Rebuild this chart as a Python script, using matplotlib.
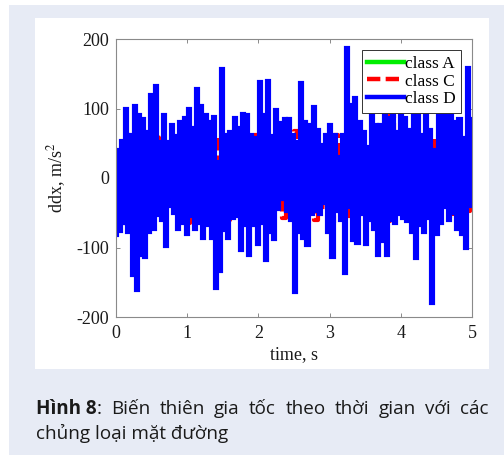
#!/usr/bin/env python3
"""Acceleration vs time for three road classes (MATLAB-style figure with caption)."""
import matplotlib
matplotlib.use("Agg")
import matplotlib.pyplot as plt
from matplotlib.patches import Rectangle
import numpy as np

# ---- data ----------------------------------------------------------------
T_END = 5.0
# class D (blue): alternating troughs / peaks, left to right
d_peaks = [40, 53, 100, 62, 103, 91, 85, 66, 120, 132, 52, 90, 52, 76, 60, 80,
           86, 100, 72, 128, 103, 91,
           80, 88, 23, 157, 62, 66, 86, 72, 92, 90, 62, 57, 138, 90, 139, 60,
           98, 79, 85, 85, 62,
           52, 136, 80, 76, 102, 69, 48, 62, 76, 62, 30, 62, 187, 105, 115, 80,
           66, 45, 125, 76, 76, 90,
           86, 110, 66, 120, 86, 69, 100, 95, 62, 130, 69, 40, 110, 90, 95, 100,
           80, 85, 57, 158, 85]
d_troughs = [-82, -76, -65, -77, -140, -161, -111, -113, -78, -74, -53, -60, -98,
             -40, -50, -73, -65, -80, -55, -73, -65, -86,
             -68, -86, -158, -134, -75, -86, -57, -55, -103, -68, -111, -68, -95,
             -65, -118, -77, -88, -45, -30, -48, -60,
             -164, -77, -87, -96, -52, -48, -52, -36, -77, -113, -48, -60, -137,
             -42, -89, -93, -52, -95, -60, -73, -111, -90,
             -111, -60, -65, -52, -58, -62, -77, -115, -68, -77, -58, -180, -80,
             -65, -42, -60, -50, -73, -80, -100, -40]
# class C (red): mostly hidden behind D
c_peaks = [10, 62, 45, 60, 38, 62, 55, 40, 62, 50, 35, 62, 58, 42, 62, 48, 60,
           62, 40, 55, 62, 45, 68, 50, 62, 38, 60, 62, 44, 58, 62, 40, 62, 55,
           90, 48, 62, 35, 60, 62, 45, 58, 62, 40, 55]
c_troughs = [-30, -65, -45, -60, -40, -62, -50, -35, -58, -65, -42, -55, -62,
             -38, -60, -48, -65, -40, -55, -62, -45, -58, -35, -62, -50, -60,
             -42, -65, -48, -55, -62, -40, -58, -45, -62, -50, -38, -60, -55,
             -45, -62, -40, -58, -50, -48]
# class A (green): small amplitude, almost completely covered
a_peaks = [4, 8, 6, 10, 5, 9, 7, 6, 8, 5, 9, 6, 7, 10, 5, 8, 6, 9, 7, 5]
a_troughs = [-6, -9, -5, -8, -7, -10, -6, -8, -5, -9, -7, -6, -8, -5, -9, -7,
             -6, -10, -5, -8]

series = [("class A", a_troughs, a_peaks, "#00ee00", "-"),
          ("class C", c_troughs, c_peaks, "#ff0000", "--"),
          ("class D", d_troughs, d_peaks, "#0000ff", "-")]

x_ticks = [0, 1, 2, 3, 4, 5]
y_ticks = [-200, -100, 0, 100, 200]

W, H = 504, 455
BG = "#e7ebf5"
INK = "#1a1a1a"

plt.rcParams.update({
    "font.family": ["Liberation Serif", "DejaVu Serif"],
    "mathtext.fontset": "stix",
    "font.size": 13,
    "axes.unicode_minus": False,
})

fig = plt.figure(figsize=(W / 100, H / 100), dpi=100)
fig.patch.set_facecolor("white")


def px_box(x0, y0, x1, y1):
    """pixel box (top-left origin) -> figure fraction rect"""
    return (x0 / W, 1 - y1 / H, (x1 - x0) / W, (y1 - y0) / H)


# caption card + white plot panel
bx, by, bw, bh = px_box(9, 5, 504, 455)
fig.add_artist(Rectangle((bx, by), bw, bh, transform=fig.transFigure,
                         facecolor=BG, edgecolor="none", zorder=-10))
px, py, pw, ph = px_box(35, 18, 489, 369)
fig.add_artist(Rectangle((px, py), pw, ph, transform=fig.transFigure,
                         facecolor="white", edgecolor="none", zorder=-9))

ax = fig.add_axes(px_box(116, 39, 472, 317))
ax.set_facecolor("white")

for name, lo, hi, col, ls in series:
    vals = np.ravel(np.column_stack([lo, hi]))
    t = np.linspace(0, T_END, len(vals))
    kw = dict(dashes=(3, 1.2)) if ls == "--" else {}
    ax.plot(t, vals, color=col, ls=ls, lw=3.0, label=name,
            drawstyle="steps-mid", solid_joinstyle="miter", **kw)

ax.set_xlim(0, 5)
ax.set_ylim(-200, 200)
ax.set_xticks(x_ticks)
ax.set_yticks(y_ticks)
ax.tick_params(direction="in", length=3, width=0.6, color="#777777",
               top=True, right=True, labelsize=13, labelcolor=INK)
ax.tick_params(axis="x", pad=6)
ax.tick_params(axis="y", pad=5)
for s in ax.spines.values():
    s.set_color("#8a8a8a")
    s.set_linewidth(0.8)
ax.set_xlabel("time, s", fontsize=13, color=INK, labelpad=3)
ax.set_ylabel(r"ddx, m/s$^{2}$", fontsize=13, color=INK, labelpad=6)

leg = ax.legend(loc="upper right", fontsize=12.5, frameon=True, fancybox=False,
                framealpha=1, edgecolor="#333333", handlelength=2.1,
                handletextpad=0.05, borderpad=0.3, labelspacing=0.1,
                borderaxespad=0.65)
leg.get_frame().set_linewidth(0.7)
for ln in leg.get_lines():
    ln.set_linewidth(3.2)

# ---- caption, justified first line ---------------------------------------
cap_font = ["Open Sans", "DejaVu Sans"]
cap_size = 13.6
renderer = fig.canvas.get_renderer()


def mk(s, weight="normal"):
    return fig.text(0, 0, s, fontsize=cap_size, family=cap_font,
                    weight=weight, color=INK, va="baseline", ha="left")


def width_px(t):
    return t.get_window_extent(renderer).width


line1 = [[("Hình 8", "bold"), (":", "normal")]] + \
    [[(w, "normal")] for w in "Biến thiên gia tốc theo thời gian với các".split()]
groups = [[mk(s, wt) for s, wt in g] for g in line1]
gw = [sum(width_px(t) for t in g) for g in groups]
x_left, x_right = 36, 489
gap = (x_right - x_left - sum(gw)) / (len(groups) - 1)
x = x_left
y1 = 1 - 414 / H
for g, w in zip(groups, gw):
    xx = x
    for t in g:
        t.set_position((xx / W, y1))
        xx += width_px(t)
    x += w + gap

line2 = mk("chủng loại mặt đường")
line2.set_position((x_left / W, 1 - 439 / H))

fig.savefig("out.png", dpi=100, facecolor=fig.get_facecolor())
